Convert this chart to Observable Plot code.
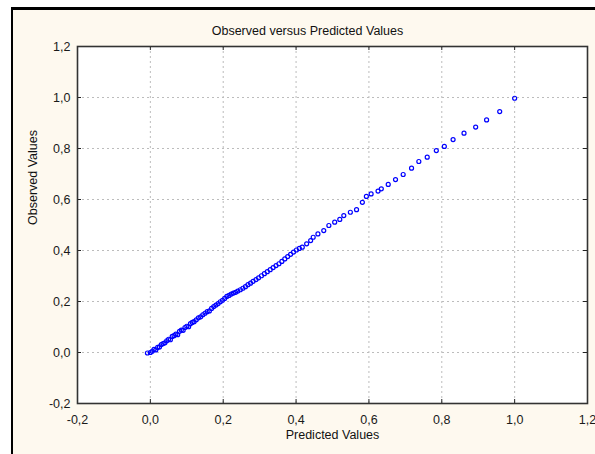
<!DOCTYPE html>
<html>
<head>
<meta charset="utf-8">
<script src="https://cdn.jsdelivr.net/npm/d3@7"></script>
<script src="https://cdn.jsdelivr.net/npm/@observablehq/plot@0.6"></script>
<style>
  html, body { margin: 0; padding: 0; background: #ffffff; }
  #wrap { position: relative; width: 595px; height: 454px; overflow: hidden; }
  #panel { position: absolute; left: 11px; top: 7px; right: 0; bottom: 0;
           background: #fef9ef; border-top: 3px solid #000; border-left: 2px solid #000; }
  #chart { position: absolute; left: 0; top: 0; }
</style>
</head>
<body>
<div id="wrap"><div id="panel"></div><div id="chart"></div></div>
<script>
const title = "Observed versus Predicted Values";
const xLabel = "Predicted Values";
const yLabel = "Observed Values";
const tickValues = [-0.2, 0.0, 0.2, 0.4, 0.6, 0.8, 1.0, 1.2];

const predicted = [
  -0.008, 0.000, 0.005, 0.010, 0.015, 0.020, 0.025, 0.030, 0.035, 0.040,
  0.045, 0.050, 0.055, 0.060, 0.065, 0.070, 0.075, 0.080, 0.085, 0.090,
  0.095, 0.100, 0.105, 0.110, 0.115, 0.120, 0.126, 0.132, 0.138, 0.144,
  0.150, 0.156, 0.162, 0.168, 0.174, 0.180, 0.186, 0.192, 0.198, 0.204,
  0.210, 0.216, 0.222, 0.228, 0.234, 0.240, 0.247, 0.254, 0.261, 0.268,
  0.275, 0.282, 0.290, 0.297, 0.305, 0.313, 0.321, 0.329, 0.337, 0.345,
  0.353, 0.361, 0.369, 0.377, 0.385, 0.393, 0.401, 0.409, 0.417, 0.429,
  0.440, 0.447, 0.460, 0.476, 0.490, 0.506, 0.520, 0.531, 0.549, 0.566,
  0.582, 0.593, 0.606, 0.625, 0.634, 0.653, 0.673, 0.694, 0.717, 0.737,
  0.760, 0.785, 0.807, 0.831, 0.861, 0.893, 0.923, 0.959, 1.000
];
const observed = [
  -0.002, 0.000, 0.005, 0.012, 0.010, 0.020, 0.022, 0.031, 0.035, 0.038,
  0.046, 0.052, 0.050, 0.063, 0.066, 0.072, 0.070, 0.083, 0.088, 0.087,
  0.098, 0.103, 0.101, 0.113, 0.118, 0.121, 0.128, 0.136, 0.140, 0.148,
  0.154, 0.160, 0.163, 0.173, 0.180, 0.186, 0.192, 0.199, 0.205, 0.212,
  0.220, 0.224, 0.229, 0.233, 0.236, 0.241, 0.246, 0.252, 0.258, 0.266,
  0.272, 0.279, 0.286, 0.293, 0.301, 0.309, 0.317, 0.325, 0.333, 0.341,
  0.348, 0.357, 0.367, 0.376, 0.385, 0.394, 0.402, 0.408, 0.413, 0.426,
  0.439, 0.452, 0.465, 0.478, 0.498, 0.511, 0.522, 0.537, 0.550, 0.560,
  0.589, 0.612, 0.622, 0.633, 0.642, 0.659, 0.678, 0.698, 0.723, 0.749,
  0.766, 0.792, 0.808, 0.835, 0.860, 0.884, 0.912, 0.945, 0.997
];

const data = predicted.map((p, i) => ({predicted: p, observed: observed[i]}));
const fmt = d => d.toFixed(1).replace(".", ",");
const lo = tickValues[0], hi = tickValues[tickValues.length - 1];
const font = "'Liberation Sans', Arial, sans-serif";

const chart = Plot.plot({
  width: 595,
  height: 454,
  marginLeft: 77,
  marginRight: 8,
  marginTop: 46,
  marginBottom: 51,
  style: {background: "transparent", fontFamily: font, fontSize: "12.5px", color: "#1a1a1a", overflow: "visible"},
  x: {domain: [lo, hi]},
  y: {domain: [lo, hi]},
  marks: [
    Plot.frame({fill: "white", stroke: null}),
    Plot.gridX(tickValues, {stroke: "#bcbcbc", strokeOpacity: 1, strokeDasharray: "2,3"}),
    Plot.gridY(tickValues, {stroke: "#bcbcbc", strokeOpacity: 1, strokeDasharray: "2,3"}),
    Plot.ruleX(tickValues, {x: d => d, y1: lo, y2: lo, insetTop: -4, stroke: "#222"}),
    Plot.ruleX(tickValues, {x: d => d, y1: hi, y2: hi, insetBottom: -4, stroke: "#222"}),
    Plot.ruleY(tickValues, {y: d => d, x1: lo, x2: lo, insetRight: -4, stroke: "#222"}),
    Plot.ruleY(tickValues, {y: d => d, x1: hi, x2: hi, insetLeft: -4, stroke: "#222"}),
    Plot.axisX(tickValues, {tickSize: 0, tickPadding: 12, tickFormat: fmt, label: null}),
    Plot.axisY(tickValues, {tickSize: 0, tickPadding: 7, tickFormat: fmt, label: null}),
    Plot.dot(data, {x: "predicted", y: "observed", r: 2, stroke: "#0000ff", strokeWidth: 1.2, fill: "none"}),
    Plot.frame({stroke: "#333", strokeWidth: 1.6}),
    Plot.text([title], {frameAnchor: "top", dy: -20, dx: -25, fontSize: 12.5, fill: "#111"}),
    Plot.text([xLabel], {frameAnchor: "bottom", dy: 35, fontSize: 12.5, fill: "#111"}),
    Plot.text([yLabel], {frameAnchor: "left", dx: -45, rotate: -90, fontSize: 12.5, fill: "#111"})
  ]
});
document.getElementById("chart").appendChild(chart);
</script>
</body>
</html>
